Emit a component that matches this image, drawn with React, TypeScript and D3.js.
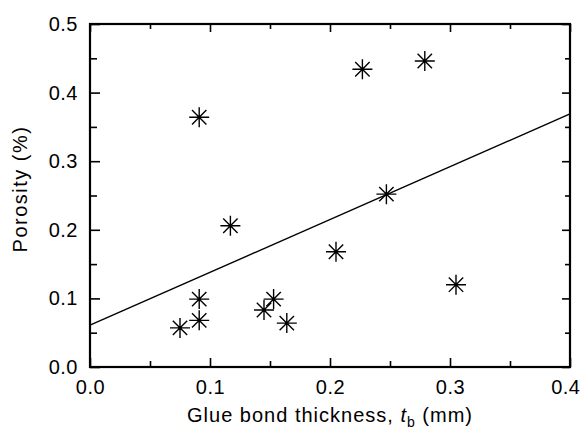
import React, { useEffect, useRef } from 'react';
import * as d3 from 'd3';

// glue bond thickness (mm) vs porosity
const thickness = [0.075, 0.091, 0.091, 0.091, 0.117, 0.145, 0.153, 0.164, 0.205, 0.227, 0.247, 0.279, 0.305];
const porosity = [0.057, 0.068, 0.099, 0.364, 0.206, 0.083, 0.099, 0.064, 0.168, 0.434, 0.252, 0.446, 0.120];

// fitted line end points
const fitX = [0, 0.4];
const fitY = [0.061, 0.369];

const xMajor = [0, 0.1, 0.2, 0.3, 0.4];
const xMinor = [0.05, 0.15, 0.25, 0.35];
const yMajor = [0, 0.1, 0.2, 0.3, 0.4, 0.5];
const yMinor = [0.05, 0.15, 0.25, 0.35, 0.45];

const W = 581;
const H = 431;
const FONT = '"Liberation Sans", Arial, Helvetica, sans-serif';

const App = () => {
  const ref = useRef<SVGSVGElement>(null);

  useEffect(() => {
    const svg = d3.select(ref.current);
    svg.selectAll('*').remove();

    const m = { left: 90, right: 11, top: 24, bottom: 64 };
    const width = W - m.left - m.right;
    const height = H - m.top - m.bottom;

    const x = d3.scaleLinear().domain([0, 0.4]).range([0, width]);
    const y = d3.scaleLinear().domain([0, 0.5]).range([height, 0]);
    const fmt = d3.format('.1f');

    const g = svg.append('g').attr('transform', `translate(${m.left},${m.top})`);

    // inward ticks on all four sides
    const addAxis = (axis: any, tx: number, ty: number, labels: boolean) => {
      const a = g.append('g').attr('transform', `translate(${tx},${ty})`).call(axis);
      a.select('.domain').remove();
      a.selectAll('line').attr('stroke', '#000').attr('stroke-width', 1.6);
      if (labels) {
        a.selectAll('text')
          .attr('fill', '#000')
          .style('font-family', FONT)
          .style('font-size', '20px')
          .style('letter-spacing', '0.5px');
      } else {
        a.selectAll('text').remove();
      }
      return a;
    };

    const bottom = addAxis(d3.axisBottom(x).tickValues(xMajor).tickSize(-9).tickPadding(13).tickFormat(fmt as any), 0, height, true);
    // the last label sits against the page edge, as in the scan
    bottom.selectAll('text')
      .filter((d: any) => d === 0.4)
      .attr('text-anchor', 'end')
      .attr('x', 10);
    addAxis(d3.axisBottom(x).tickValues(xMinor).tickSize(-6), 0, height, false);
    addAxis(d3.axisTop(x).tickValues(xMajor).tickSize(-8), 0, 0, false);
    addAxis(d3.axisTop(x).tickValues(xMinor).tickSize(-5), 0, 0, false);
    addAxis(d3.axisLeft(y).tickValues(yMajor).tickSize(-10).tickPadding(12).tickFormat(fmt as any), 0, 0, true);
    addAxis(d3.axisLeft(y).tickValues(yMinor).tickSize(-7), 0, 0, false);
    addAxis(d3.axisRight(y).tickValues(yMajor).tickSize(-8), width, 0, false);
    addAxis(d3.axisRight(y).tickValues(yMinor).tickSize(-5), width, 0, false);

    // frame
    g.append('rect')
      .attr('width', width)
      .attr('height', height)
      .attr('fill', 'none')
      .attr('stroke', '#000')
      .attr('stroke-width', 2.2);

    // regression line
    const line = d3.line<number>()
      .x((d, i) => x(fitX[i]))
      .y((d) => y(d));
    g.append('path')
      .attr('d', line(fitY))
      .attr('fill', 'none')
      .attr('stroke', '#000')
      .attr('stroke-width', 1.4);

    // asterisk markers (plus + cross)
    const star = (r: number) => {
      const p = d3.path();
      const dr = r * 0.72;
      p.moveTo(-r, 0); p.lineTo(r, 0);
      p.moveTo(0, -r); p.lineTo(0, r);
      p.moveTo(-dr, -dr); p.lineTo(dr, dr);
      p.moveTo(-dr, dr); p.lineTo(dr, -dr);
      return p.toString();
    };
    g.selectAll('.pt')
      .data(thickness)
      .enter()
      .append('path')
      .attr('class', 'pt')
      .attr('transform', (d, i) => `translate(${x(d)},${y(porosity[i])})`)
      .attr('d', star(10))
      .attr('fill', 'none')
      .attr('stroke', '#000')
      .attr('stroke-width', 1.4);

    // axis titles
    const xt = svg.append('text')
      .attr('x', m.left + width / 2)
      .attr('y', 422)
      .attr('text-anchor', 'middle')
      .style('font-family', FONT)
      .style('font-size', '20px')
      .style('letter-spacing', '1px');
    xt.append('tspan').text('Glue bond thickness, ');
    xt.append('tspan').style('font-style', 'italic').text('t');
    xt.append('tspan').attr('dy', 5).style('font-size', '14px').text('b');
    xt.append('tspan').attr('dy', -5).text(' (mm)');

    svg.append('text')
      .attr('transform', `translate(27,189) rotate(-90)`)
      .attr('text-anchor', 'middle')
      .style('font-family', FONT)
      .style('font-size', '20px')
      .style('letter-spacing', '1.5px')
      .text('Porosity (%)');
  }, []);

  return (
    <svg
      ref={ref}
      width={W}
      height={H}
      style={{ position: 'absolute', left: 0, top: 0, background: '#fff' }}
    />
  );
};

export default App;
